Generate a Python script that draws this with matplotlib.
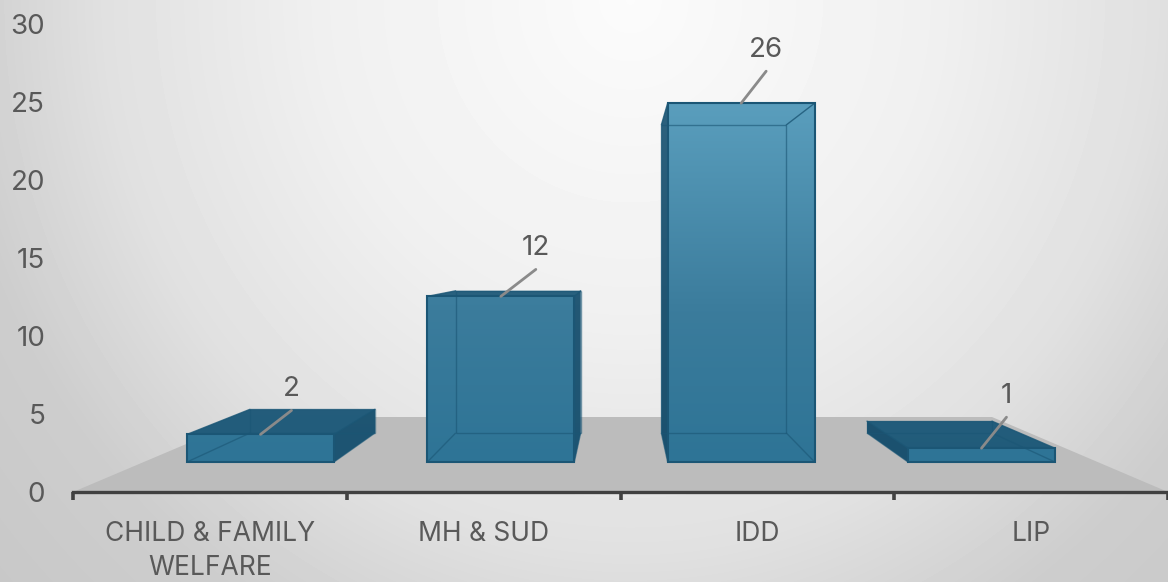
import numpy as np
import matplotlib
matplotlib.use("Agg")
import matplotlib.pyplot as plt
from matplotlib.colors import LinearSegmentedColormap
from matplotlib.patches import Polygon

categories = ["CHILD & FAMILY\nWELFARE", "MH & SUD", "IDD", "LIP"]
values = [2, 12, 26, 1]
y_ticks = [0, 5, 10, 15, 20, 25, 30]

W, H = 1168, 582
LEFT, BASE, TOP = 73, 492, 24
PX_X = (W - LEFT) / 4
PX_Y = (BASE - TOP) / 30

plt.rcParams["font.family"] = ["Inter", "DejaVu Sans"]
TXT = "#595959"
FS = 20
FS_CAT = 19

# projection of the 3D box: front and back planes of the pseudo-3D chart
FRONT = dict(c0=(260.5 - LEFT) / PX_X, step=240.33 / PX_X, hw=73.5 / PX_X,
             base=(BASE - 462) / PX_Y, k=13.8 / PX_Y)
BACK = dict(c0=(312.5 - LEFT) / PX_X, step=205.67 / PX_X, hw=62.5 / PX_X,
            base=(BASE - 433) / PX_Y, k=11.85 / PX_Y)
FLOOR_Y = (BASE - 417) / PX_Y
FLOOR_X = ((250 - LEFT) / PX_X, (992 - LEFT) / PX_X)
LEADERS = [(31, 24), (35, 27), (25, 32), (25, 31)]

fig = plt.figure(figsize=(W / 100, H / 100), dpi=100)

# background radial gradient
bg = fig.add_axes([0, 0, 1, 1], zorder=-1)
yy, xx = np.mgrid[0:H, 0:W]
r = np.sqrt(((xx - 630) / 620) ** 2 + ((yy - 0) / 650) ** 2)
shade = np.interp(r, [0, 0.5, 0.85, 1.1, 1.4], [0.985, 0.94, 0.88, 0.805, 0.78])
bg.imshow(shade, cmap="gray", vmin=0, vmax=1, aspect="auto", extent=(0, W, H, 0))
bg.axis("off")

ax = fig.add_axes([LEFT / W, 1 - BASE / H, (W - LEFT) / W, (BASE - TOP) / H])
ax.patch.set_alpha(0)

ax.add_patch(Polygon([(0, 0), (4, 0), (FLOOR_X[1], FLOOR_Y), (FLOOR_X[0], FLOOR_Y)],
                     closed=True, fc="#bcbcbc", ec="none", zorder=1))

cmap = LinearSegmentedColormap.from_list(
    "bar", [(0, "#2e7496"), (0.42, "#3b7c9c"), (1, "#5a9ebd")])
vmin, vmax = (BASE - 462) / PX_Y, (BASE - 103) / PX_Y


def rect(p, i, v):
    c = p["c0"] + p["step"] * i
    return c - p["hw"], c + p["hw"], p["base"], p["base"] + p["k"] * v


def hull(pts):
    pts = sorted(set(pts))
    def half(seq):
        out = []
        for q in seq:
            while len(out) > 1 and ((out[-1][0] - out[-2][0]) * (q[1] - out[-2][1])
                                    - (out[-1][1] - out[-2][1]) * (q[0] - out[-2][0])) <= 0:
                out.pop()
            out.append(q)
        return out[:-1]
    return half(pts) + half(pts[::-1])


EDGE = "#1b5675"
DARK = "#0f3a55"
for i, v in enumerate(values):
    fl, fr, fb, ft = rect(FRONT, i, v)
    bl, br, bb, bt = rect(BACK, i, v)
    corners = [(fl, fb), (fr, fb), (fr, ft), (fl, ft), (bl, bb), (br, bb), (br, bt), (bl, bt)]
    h = hull(corners)
    xs, ys = zip(*h)
    grad = np.linspace(min(ys), max(ys), 200)[::-1].reshape(-1, 1)
    im = ax.imshow(grad, cmap=cmap, vmin=vmin, vmax=vmax, aspect="auto", zorder=2,
                   extent=(min(xs), max(xs), min(ys), max(ys)))
    im.set_clip_path(Polygon(h, closed=True, transform=ax.transData))
    # outer faces are shaded, inner ones stay see-through
    if br > fr:
        ax.add_patch(Polygon([(fr, fb), (br, bb), (br, bt), (fr, ft)], fc=DARK, alpha=0.55, ec="none", zorder=3))
    if bl < fl:
        ax.add_patch(Polygon([(fl, fb), (bl, bb), (bl, bt), (fl, ft)], fc=DARK, alpha=0.6, ec="none", zorder=3))
    if bt > ft:
        ax.add_patch(Polygon([(fl, ft), (fr, ft), (br, bt), (bl, bt)], fc=DARK, alpha=0.42, ec="none", zorder=3))
    # inner edges
    for a, b in [((bl, bb), (br, bb)), ((bl, bb), (bl, bt)), ((br, bb), (br, bt)),
                 ((fl, fb), (bl, bb)), ((fr, fb), (br, bb)), ((bl, bt), (br, bt))]:
        ax.plot(*zip(a, b), color=EDGE, lw=1.0, alpha=0.6, zorder=4, solid_capstyle="butt")
    # outer edges
    for a, b in [((fl, ft), (bl, bt)), ((fr, ft), (br, bt))]:
        ax.plot(*zip(a, b), color=EDGE, lw=1.0, alpha=0.8, zorder=5, solid_capstyle="round")
    ax.add_patch(Polygon([(fl, fb), (fr, fb), (fr, ft), (fl, ft)], fc="none", ec=EDGE, lw=1.5, zorder=5))

    # data labels with leader lines
    cx = (fl + fr) / 2
    dx, dy = LEADERS[i]
    ax.annotate("", xy=(cx, ft), xytext=(dx, dy), textcoords="offset pixels",
                arrowprops=dict(arrowstyle="-", color="#8a8a8a", lw=2.0, shrinkA=0, shrinkB=0),
                zorder=6)
    ax.annotate(str(v), xy=(cx, ft), xytext=(dx, dy + 21), textcoords="offset pixels",
                ha="center", va="center", fontsize=FS, color=TXT, zorder=7)

ax.set_xlim(0, 4)
ax.set_ylim(0, 30)
for s in ("top", "left", "right"):
    ax.spines[s].set_visible(False)
ax.spines["bottom"].set_color("#404040")
ax.spines["bottom"].set_linewidth(2.4)
ax.spines["bottom"].set_zorder(8)

ax.set_yticks(y_ticks)
ax.tick_params(axis="y", length=0, pad=20, labelsize=FS, labelcolor=TXT)
ax.set_xticks(range(5))
ax.set_xticklabels([])
ax.tick_params(axis="x", which="major", length=6, width=2.6, color="#404040")
ax.set_xticks(np.arange(4) + 0.5, minor=True)
ax.set_xticklabels(categories, minor=True, fontsize=FS_CAT, color=TXT, linespacing=1.4)
ax.tick_params(axis="x", which="minor", length=0, pad=21)
for line in ax.xaxis.get_majorticklines():
    line.set_clip_on(False)

fig.savefig("out.png", dpi=100)
